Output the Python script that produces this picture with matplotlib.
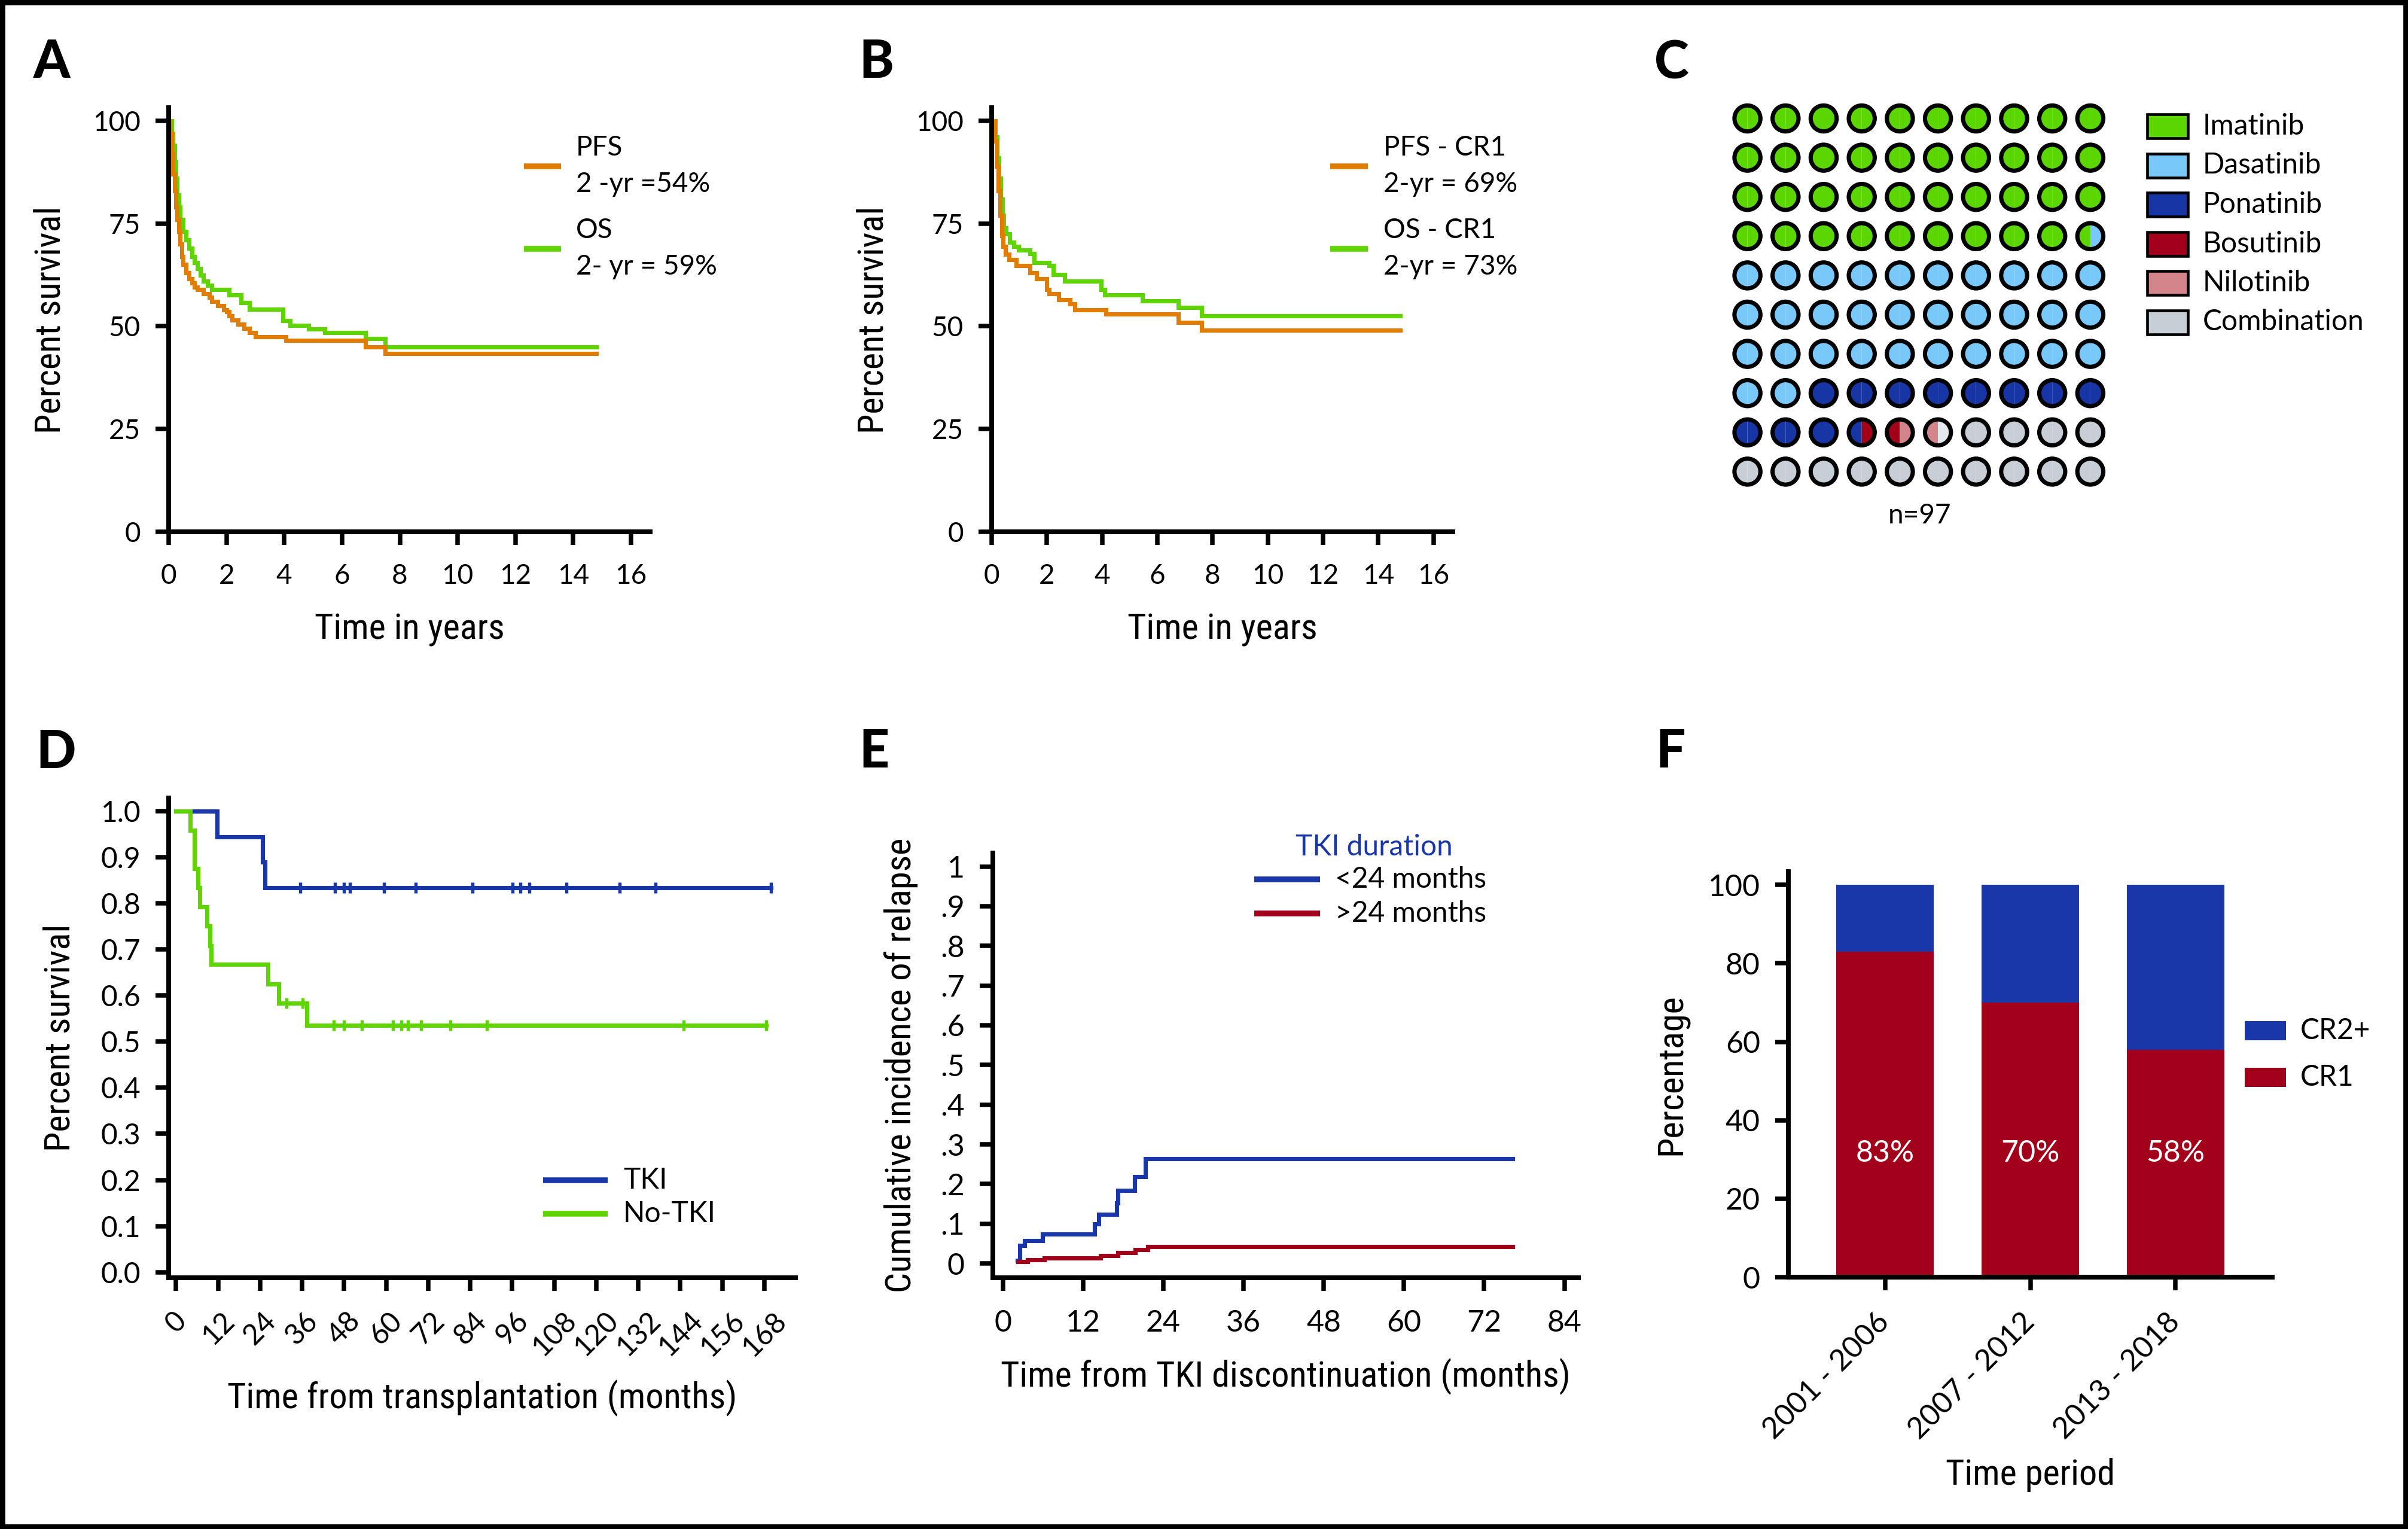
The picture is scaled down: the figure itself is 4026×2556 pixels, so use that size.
import numpy as np
import matplotlib
matplotlib.use("Agg")
import matplotlib.pyplot as plt
from matplotlib import font_manager
from matplotlib.patches import Wedge, Circle, Rectangle

W, H, DPI = 4026, 2556, 300

# ---- A: whole cohort (years, percent) ----
pfs_a_t = [0, 0.05, 0.1, 0.15, 0.2, 0.25, 0.3, 0.35, 0.4, 0.45, 0.5, 0.6, 0.7, 0.8,
           0.9, 1.0, 1.2, 1.4, 1.5, 1.7, 1.9, 2.0, 2.1, 2.2, 2.4, 2.6, 2.8, 3.0,
           4.05, 6.8, 7.5]
pfs_a_s = [100, 97, 92, 87, 83, 79, 76, 73, 70, 67, 65, 63, 61.5, 60.5,
           59.5, 59, 58, 57, 56, 55, 54, 53.5, 52.5, 51.5, 50.5, 49.5, 48.5, 47.4,
           46.6, 45.0, 43.4]
os_a_t = [0, 0.1, 0.15, 0.2, 0.25, 0.3, 0.35, 0.4, 0.5, 0.6, 0.7, 0.8, 0.9, 1.0,
          1.1, 1.2, 1.35, 1.5, 2.1, 2.5, 2.8, 3.96, 4.2, 4.85, 5.4, 6.8, 7.5]
os_a_s = [100, 97, 94, 90, 86, 82, 79, 76, 73, 71, 69, 67, 65.5, 64,
          62.5, 61, 60, 59, 57.6, 55.7, 54.1, 51.4, 50.2, 49.4, 48.4, 47.0, 45.0]
end_a = 14.8
legend_a = [("PFS", "2 -yr =54%"), ("OS", "2- yr = 59%")]

# ---- B: CR1 ----
pfs_b_t = [0, 0.1, 0.18, 0.24, 0.3, 0.36, 0.41, 0.5, 0.62, 0.88, 1.38, 1.62, 2.0,
           2.09, 2.43, 2.84, 3.02, 4.14, 6.76, 7.6]
pfs_b_s = [100, 95, 89, 83, 77, 72, 69.5, 67.5, 66.3, 64.8, 63, 61.6, 59,
           58, 56.5, 55.5, 54, 53, 51, 49.1]
os_b_t = [0, 0.13, 0.2, 0.26, 0.32, 0.38, 0.44, 0.52, 0.65, 0.8, 0.97, 1.38, 1.53,
          2.09, 2.24, 2.65, 3.96, 4.1, 5.45, 6.76, 7.6]
os_b_s = [100, 96, 91, 86, 81, 77, 74, 72.5, 70.5, 69.5, 68.5, 67.7, 65.5,
          64.8, 62.6, 61, 59, 57.6, 56.2, 54.6, 52.5]
end_b = 14.8
legend_b = [("PFS - CR1", "2-yr = 69%"), ("OS - CR1", "2-yr = 73%")]

# ---- C: TKI used (percent of n=97) ----
tki_names = ["Imatinib", "Dasatinib", "Ponatinib", "Bosutinib", "Nilotinib", "", "Combination"]
tki_pct = [39.5, 32.5, 11.5, 1.0, 1.0, 0.5, 14.0]
tki_colors = ["#5CD600", "#78C8FA", "#1735A5", "#A2001A", "#D4858C", "#E4E7EE", "#C8CED6"]

# ---- D: TKI vs no TKI (months, probability) ----
tki_t = [0, 11.8, 24.7, 25.4]
tki_s = [1.0, 0.944, 0.889, 0.833]
tki_end = 169.9
tki_cens = [35.5, 45.3, 48, 49.7, 59.4, 68.5, 84.7, 96.1, 98.3, 100.9, 111.5, 126.7, 137, 169.9]
notki_t = [0, 4.1, 5.3, 6.3, 6.8, 8.8, 9.6, 10.0, 26.2, 29.4, 37.4]
notki_s = [1.0, 0.958, 0.875, 0.833, 0.792, 0.75, 0.708, 0.667, 0.625, 0.583, 0.535]
notki_end = 168.6
notki_cens = [31.6, 36.2, 45, 48, 53, 61.9, 64.4, 66.3, 69.9, 78.4, 88.7, 145, 168.6]

# ---- E: relapse after TKI discontinuation ----
lt24_t = [2.2, 2.5, 3.2, 5.9, 13.7, 14.3, 17.0, 17.2, 19.7, 21.3]
lt24_s = [0.007, 0.045, 0.058, 0.074, 0.099, 0.123, 0.153, 0.184, 0.218, 0.264]
gt24_t = [2.3, 3.7, 6.2, 14.6, 17.2, 19.8, 21.7]
gt24_s = [0.004, 0.009, 0.0135, 0.02, 0.028, 0.035, 0.042]
end_e = 76.3

# ---- F: disease status by period ----
periods = ["2001 - 2006", "2007 - 2012", "2013 - 2018"]
cr1_pct = [83, 70, 58]
cr2_pct = [17, 30, 42]

ORANGE = "#E07D00"
GREEN = "#5FD400"
BLUE = "#1A37AA"
RED = "#A2001A"

TICK_FONT = ["Lato", "DejaVu Sans"]
plt.rcParams["font.family"] = TICK_FONT

# axis titles in the original are a condensed face; use one if the box has it
_fonts = font_manager.fontManager.ttflist
_names = {f.name for f in _fonts}
LABEL_KW = {"family": ["Roboto", "DejaVu Sans"], "fontstretch": "normal", "size": 13.5}
for cand in ("Liberation Sans Narrow", "Roboto Condensed", "Open Sans Condensed",
             "Noto Sans Condensed", "DejaVu Sans Condensed"):
    if cand in _names:
        LABEL_KW = {"family": [cand, "DejaVu Sans"], "fontstretch": "normal", "size": 14.5}
        break
else:
    if any(f.name == "DejaVu Sans" and f.stretch == "condensed" for f in _fonts):
        LABEL_KW = {"family": ["DejaVu Sans"], "fontstretch": "condensed", "size": 14}


def px_axes(fig, left, top, right, bottom):
    return fig.add_axes([left / W, 1 - bottom / H, (right - left) / W, (bottom - top) / H])


def style(ax, fs, xpad=7.5, ypad=6):
    for s in ("top", "right"):
        ax.spines[s].set_visible(False)
    for s in ("left", "bottom"):
        ax.spines[s].set_linewidth(1.9)
        ax.spines[s].set_capstyle("projecting")
    ax.tick_params(width=1.8, length=5.3, labelsize=fs, direction="out")
    ax.tick_params(axis="x", pad=xpad)
    ax.tick_params(axis="y", pad=ypad)
    ax.patch.set_visible(False)


def labels(ax, xl, yl, xpos, ypos):
    ax.set_xlabel(xl, va="top", **LABEL_KW)
    ax.set_ylabel(yl, **LABEL_KW)
    ax.xaxis.set_label_coords(*xpos)
    ax.yaxis.set_label_coords(*ypos)


def km(ax, t, s, end, color, lw=1.7):
    ax.step(list(t) + [end], list(s) + [s[-1]], where="post", color=color, lw=lw,
            solid_joinstyle="miter")


def step_at(t, s, x):
    idx = np.searchsorted(t, x, side="right") - 1
    return np.asarray(s)[idx]


fig = plt.figure(figsize=(W / DPI, H / DPI), dpi=DPI)

# overlay in pixel units for legends, waffle, panel letters
ov = fig.add_axes([0, 0, 1, 1])
ov.set_xlim(0, W)
ov.set_ylim(H, 0)
ov.axis("off")
ov.set_zorder(10)

# ---------- A ----------
axA = px_axes(fig, 282, 180, 1087, 889)
km(axA, os_a_t, os_a_s, end_a, GREEN)
km(axA, pfs_a_t, pfs_a_s, end_a, ORANGE)
axA.set_xlim(0, 16.66)
axA.set_ylim(0, 103.2)
axA.set_xticks(range(0, 17, 2))
axA.set_yticks([0, 25, 50, 75, 100])
style(axA, 11)
labels(axA, "Time in years", "Percent survival", (0.5, -0.19), (-0.21, 0.5))

# ---------- B ----------
axB = px_axes(fig, 1658, 180, 2429, 889)
km(axB, os_b_t, os_b_s, end_b, GREEN)
km(axB, pfs_b_t, pfs_b_s, end_b, ORANGE)
axB.set_xlim(0, 16.7)
axB.set_ylim(0, 103.2)
axB.set_xticks(range(0, 17, 2))
axB.set_yticks([0, 25, 50, 75, 100])
style(axB, 11)
labels(axB, "Time in years", "Percent survival", (0.5, -0.19), (-0.22, 0.5))

for (x0, x1, xt), leg in (((876, 938, 963), legend_a), ((2224, 2287, 2313), legend_b)):
    for (name, note), col, ly in zip(leg, (ORANGE, GREEN), (278, 416)):
        ov.plot([x0, x1], [ly, ly], color=col, lw=2.3, solid_capstyle="butt")
        ov.text(xt, ly - 31, name, fontsize=11, va="center", ha="left")
        ov.text(xt, ly + 30, note, fontsize=11, va="center", ha="left")

# ---------- C: waffle ----------
halves = np.repeat(np.arange(len(tki_pct)), np.round(np.array(tki_pct) * 2).astype(int))
cx0, cy0, dx, dy, r = 2921.6, 198, 63.7, 65.6, 21.7
for k in range(len(halves) // 2):
    row, col = divmod(k, 10)
    cx, cy = cx0 + col * dx, cy0 + row * dy
    ov.add_patch(Wedge((cx, cy), r, 90, 270, fc=tki_colors[halves[2 * k]], ec="none"))
    ov.add_patch(Wedge((cx, cy), r, -90, 90, fc=tki_colors[halves[2 * k + 1]], ec="none"))
    ov.add_patch(Circle((cx, cy), r, fc="none", ec="black", lw=1.7))
ov.text(3210, 862, "n=97", fontsize=11, ha="center", va="center")

ly = 211
for name, col in zip(tki_names, tki_colors):
    if not name:
        continue
    ov.add_patch(Rectangle((3590, ly - 20), 68, 40, fc=col, ec="black", lw=1.1))
    ov.text(3683, ly, name, fontsize=11.5, va="center", ha="left")
    ly += 65.5

# ---------- D ----------
axD = px_axes(fig, 282, 1334, 1330, 2136)
km(axD, tki_t, tki_s, tki_end, BLUE)
km(axD, notki_t, notki_s, notki_end, GREEN)
axD.plot(tki_cens, step_at(tki_t, tki_s, tki_cens), ls="none", marker="|", ms=4.5,
         mew=1.3, color=BLUE)
axD.plot(notki_cens, step_at(notki_t, notki_s, notki_cens), ls="none", marker="|", ms=4.5,
         mew=1.3, color=GREEN)
axD.set_xlim(-2.1, 176.9)
axD.set_ylim(-0.012, 1.028)
axD.set_xticks(range(0, 169, 12))
axD.set_yticks(np.round(np.arange(0, 1.01, 0.1), 1))
axD.set_yticklabels([f"{v:.1f}" for v in np.arange(0, 1.01, 0.1)])
style(axD, 11.5, xpad=6.5)
for lab in axD.get_xticklabels():
    lab.set_rotation(45)
    lab.set_ha("center")
    lab.set_va("top")
labels(axD, "Time from transplantation (months)", "Percent survival", (0.5, -0.213), (-0.146, 0.5))

for name, col, y in (("TKI", BLUE, 1973), ("No-TKI", GREEN, 2029)):
    ov.plot([908, 1016], [y, y], color=col, lw=2.3, solid_capstyle="butt")
    ov.text(1042, y, name, fontsize=11.5, va="center", ha="left")

# ---------- E ----------
axE = px_axes(fig, 1660, 1426, 2639, 2136)
km(axE, lt24_t, lt24_s, end_e, BLUE)
km(axE, gt24_t, gt24_s, end_e, RED)
axE.set_xlim(-1.5, 86.1)
axE.set_ylim(-0.036, 1.034)
axE.set_xticks(range(0, 85, 12))
yt = np.round(np.arange(0, 1.01, 0.1), 1)
axE.set_yticks(yt)
axE.set_yticklabels(["0"] + [f".{i}" for i in range(1, 10)] + ["1"])
style(axE, 12)
labels(axE, "Time from TKI discontinuation (months)", "Cumulative incidence of relapse",
       (0.5, -0.19), (-0.128, 0.5))

ov.text(2297, 1416, "TKI duration", fontsize=11.5, color=BLUE, ha="center", va="center")
for name, col, y in (("<24 months", BLUE, 1470), (">24 months", RED, 1527)):
    ov.plot([2097, 2207], [y, y], color=col, lw=2.3, solid_capstyle="butt")
    ov.text(2232, y, name, fontsize=11.5, va="center", ha="left")

# ---------- F ----------
axF = px_axes(fig, 2990, 1457, 3799, 2135)
xf = np.arange(len(periods))
axF.bar(xf, cr1_pct, width=0.67, color=RED, label="CR1")
axF.bar(xf, cr2_pct, width=0.67, bottom=cr1_pct, color=BLUE, label="CR2+")
for x, v in zip(xf, cr1_pct):
    axF.text(x, 31.6, f"{v}%", color="white", fontsize=12, ha="center", va="center")
axF.set_xlim(-0.665, 2.665)
axF.set_ylim(0, 103.4)
axF.set_xticks(xf)
axF.set_xticklabels(periods)
axF.set_yticks(range(0, 101, 20))
style(axF, 12, xpad=11)
for lab in axF.get_xticklabels():
    lab.set_rotation(45)
    lab.set_ha("right")
    lab.set_va("center")
    lab.set_rotation_mode("anchor")
labels(axF, "Time period", "Percentage", (0.5, -0.445), (-0.207, 0.5))

for name, col, y in (("CR2+", BLUE, 1723), ("CR1", RED, 1801)):
    ov.add_patch(Rectangle((3753, y - 16), 69, 32, fc=col, ec="none"))
    ov.text(3846, y, name, fontsize=11.5, va="center", ha="left")

# ---------- panel letters ----------
for letter, x, y in (("A", 56, 130), ("B", 1436, 130), ("C", 2766, 131),
                     ("D", 60, 1284), ("E", 1436, 1283), ("F", 2768, 1283)):
    ov.text(x, y, letter, fontsize=21, fontweight="black", ha="left", va="baseline")

fig.patches.append(Rectangle((0, 0), 1, 1, transform=fig.transFigure, fill=False,
                             lw=4, ec="black"))

fig.savefig("out.png", dpi=DPI)
